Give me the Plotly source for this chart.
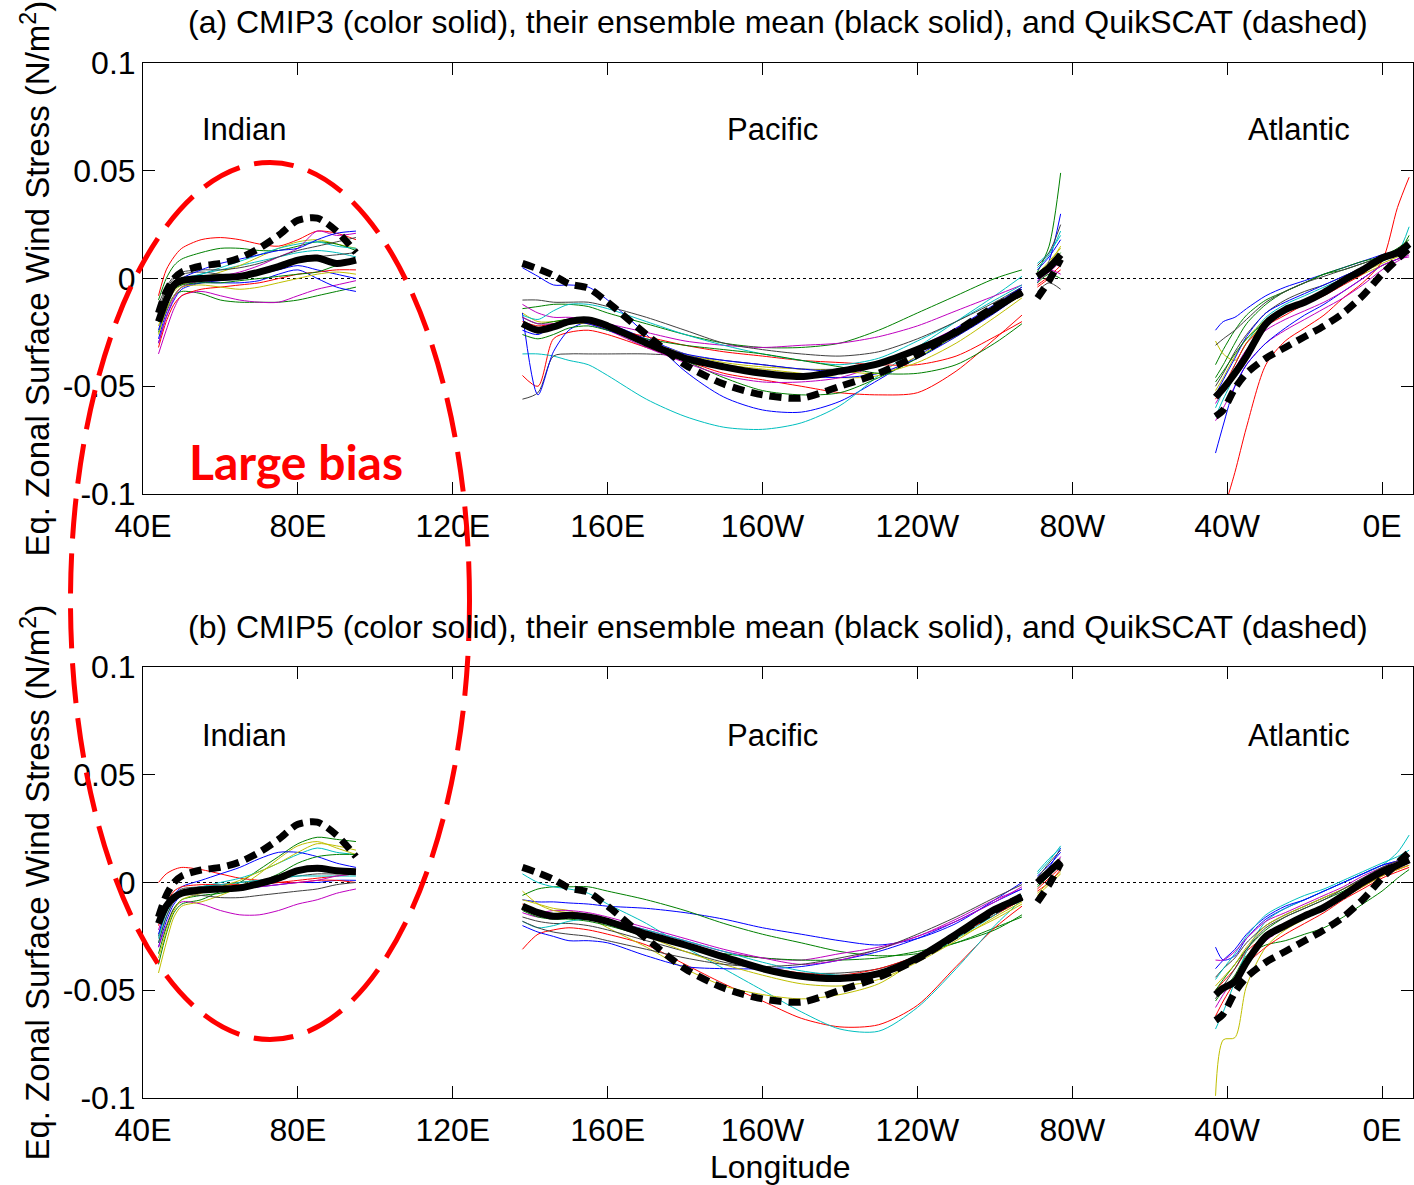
import plotly.graph_objects as go

# ---------------- data ----------------
lon_ind = [44, 46, 48, 50, 55, 60, 65, 70, 75, 80, 85, 90, 95]
lon_pac = [138, 142, 146, 150, 155, 160, 170, 180, 190, 200, 210, 220, 230, 240, 250, 260, 267]
lon_cam = [271, 274, 277]
lon_atl = [317, 319, 322, 325, 330, 335, 340, 345, 350, 355, 360, 364, 367]

x_tickvals = [40, 80, 120, 160, 200, 240, 280, 320, 360]
x_ticktext = ["40E", "80E", "120E", "160E", "160W", "120W", "80W", "40W", "0E"]
y_tickvals = [-0.1, -0.05, 0, 0.05, 0.1]
y_ticktext = ["-0.1", "-0.05", "0", "0.05", "0.1"]

# QuikSCAT observations (same in both panels)
obs_ind = [-0.016, -0.006, 0.0, 0.003, 0.0058, 0.007, 0.0095, 0.014, 0.020, 0.027, 0.028, 0.022, 0.012]
obs_pac = [0.007, 0.0045, 0.0015, -0.0025, -0.0045, -0.011, -0.026, -0.040, -0.049, -0.054, -0.0555,
           -0.050, -0.044, -0.0355, -0.0245, -0.013, -0.0065]
obs_cam = [-0.009, -0.001, 0.009]
obs_atl = [-0.064, -0.061, -0.051, -0.044, -0.037, -0.032, -0.027, -0.022, -0.016, -0.008, 0.002, 0.009, 0.014]

# CMIP3 ensemble mean
mean3_ind = [-0.020, -0.010, -0.003, -0.001, 0.0, 0.0005, 0.001, 0.003, 0.0055, 0.0085, 0.0095, 0.007, 0.0085]
mean3_pac = [-0.021, -0.024, -0.0225, -0.020, -0.0193, -0.022, -0.030, -0.037, -0.041, -0.044, -0.0455,
             -0.043, -0.0395, -0.033, -0.025, -0.014, -0.006]
mean3_cam = [0.001, 0.005, 0.011]
mean3_atl = [-0.055, -0.051, -0.044, -0.036, -0.021, -0.0145, -0.011, -0.0065, -0.001, 0.004, 0.0095, 0.012, 0.016]

# CMIP5 ensemble mean
mean5_ind = [-0.019, -0.011, -0.007, -0.005, -0.0035, -0.003, -0.0025, -0.0005, 0.002, 0.0055, 0.0066, 0.0055, 0.005]
mean5_pac = [-0.011, -0.014, -0.0157, -0.0152, -0.016, -0.018, -0.024, -0.029, -0.0345, -0.040, -0.0435,
             -0.0445, -0.0423, -0.035, -0.024, -0.0125, -0.007]
mean5_cam = [0.0, 0.005, 0.010]
mean5_atl = [-0.052, -0.049, -0.046, -0.037, -0.025, -0.020, -0.0155, -0.0115, -0.006, 0.0, 0.005, 0.008, 0.0105]

# CMIP3 individual models
cmip3_ind = [
    [-0.030, -0.018, -0.010, -0.005, -0.002, -0.001, 0.000, 0.002, 0.004, 0.006, 0.004, 0.002, 0.000],
    [-0.025, -0.015, -0.008, -0.006, -0.007, -0.010, -0.011, -0.011, -0.011, -0.010, -0.008, -0.006, -0.004],
    [-0.008, 0.004, 0.010, 0.014, 0.018, 0.019, 0.018, 0.016, 0.015, 0.018, 0.022, 0.021, 0.018],
    [-0.020, -0.010, -0.004, -0.001, 0.002, 0.004, 0.006, 0.008, 0.010, 0.012, 0.013, 0.012, 0.010],
    [-0.035, -0.024, -0.014, -0.008, -0.006, -0.008, -0.010, -0.011, -0.011, -0.008, -0.005, -0.003, -0.001],
    [-0.022, -0.012, -0.006, -0.003, 0.000, 0.003, 0.006, 0.010, 0.014, 0.017, 0.018, 0.016, 0.014],
    [-0.015, -0.005, 0.000, 0.002, 0.003, 0.002, 0.002, 0.003, 0.005, 0.008, 0.010, 0.011, 0.012],
    [-0.028, -0.016, -0.008, -0.004, -0.002, -0.002, -0.002, -0.001, 0.002, 0.004, 0.000, -0.004, -0.006],
    [-0.010, 0.000, 0.006, 0.009, 0.012, 0.014, 0.014, 0.013, 0.013, 0.015, 0.017, 0.016, 0.013],
    [-0.032, -0.020, -0.012, -0.008, -0.005, -0.004, -0.003, -0.002, 0.000, 0.002, 0.003, 0.004, 0.004],
    [-0.018, -0.008, -0.002, 0.000, 0.002, 0.005, 0.008, 0.011, 0.014, 0.016, 0.017, 0.015, 0.014],
    [-0.030, -0.018, -0.009, -0.004, -0.001, 0.001, 0.003, 0.006, 0.010, 0.014, 0.022, 0.020, 0.021],
    [-0.026, -0.015, -0.008, -0.004, -0.003, -0.004, -0.005, -0.004, -0.002, 0.000, 0.002, 0.003, 0.002],
    [-0.012, -0.004, 0.001, 0.003, 0.004, 0.004, 0.005, 0.007, 0.010, 0.013, 0.015, 0.017, 0.019],
    [-0.024, -0.012, -0.004, 0.000, 0.004, 0.007, 0.009, 0.011, 0.013, 0.014, 0.018, 0.021, 0.022],
    [-0.020, -0.010, -0.005, -0.003, -0.002, -0.002, -0.001, 0.000, 0.001, 0.002, 0.003, 0.006, 0.008],
]
cmip3_pac = [
    [0.005, 0.001, -0.003, -0.003, -0.004, -0.010, -0.026, -0.043, -0.055, -0.061, -0.062, -0.057, -0.047, -0.036, -0.025, -0.013, -0.005],
    [-0.014, -0.013, -0.012, -0.012, -0.013, -0.016, -0.021, -0.026, -0.030, -0.032, -0.032, -0.030, -0.024, -0.016, -0.008, 0.000, 0.004],
    [-0.045, -0.050, -0.028, -0.025, -0.024, -0.026, -0.032, -0.038, -0.044, -0.047, -0.050, -0.053, -0.054, -0.053, -0.043, -0.028, -0.017],
    [-0.035, -0.035, -0.036, -0.038, -0.040, -0.045, -0.056, -0.064, -0.069, -0.070, -0.067, -0.059, -0.045, -0.032, -0.020, -0.008, 0.001],
    [-0.012, -0.016, -0.018, -0.018, -0.019, -0.021, -0.025, -0.029, -0.031, -0.032, -0.031, -0.030, -0.027, -0.022, -0.015, -0.008, -0.003],
    [-0.016, -0.020, -0.020, -0.019, -0.020, -0.023, -0.031, -0.037, -0.040, -0.042, -0.044, -0.046, -0.045, -0.036, -0.027, -0.015, -0.008],
    [-0.056, -0.053, -0.036, -0.035, -0.035, -0.035, -0.035, -0.036, -0.038, -0.040, -0.042, -0.042, -0.040, -0.034, -0.025, -0.014, -0.006],
    [-0.016, -0.054, -0.034, -0.024, -0.020, -0.021, -0.028, -0.035, -0.040, -0.043, -0.045, -0.046, -0.044, -0.037, -0.027, -0.016, -0.007],
    [-0.018, -0.021, -0.020, -0.019, -0.020, -0.022, -0.029, -0.038, -0.046, -0.052, -0.054, -0.053, -0.046, -0.037, -0.026, -0.014, -0.006],
    [-0.020, -0.022, -0.021, -0.020, -0.021, -0.023, -0.027, -0.031, -0.034, -0.036, -0.038, -0.039, -0.040, -0.040, -0.036, -0.027, -0.020],
    [-0.017, -0.019, -0.015, -0.012, -0.012, -0.014, -0.020, -0.026, -0.031, -0.035, -0.038, -0.040, -0.037, -0.029, -0.020, -0.010, -0.003],
    [-0.018, -0.021, -0.021, -0.020, -0.021, -0.024, -0.032, -0.039, -0.045, -0.048, -0.048, -0.046, -0.040, -0.032, -0.023, -0.013, -0.006],
    [-0.022, -0.025, -0.023, -0.021, -0.021, -0.023, -0.029, -0.035, -0.039, -0.041, -0.042, -0.043, -0.044, -0.039, -0.030, -0.018, -0.009],
    [-0.010, -0.010, -0.011, -0.011, -0.011, -0.013, -0.018, -0.024, -0.030, -0.033, -0.035, -0.036, -0.034, -0.028, -0.020, -0.011, -0.004],
    [-0.024, -0.026, -0.022, -0.020, -0.021, -0.024, -0.030, -0.035, -0.038, -0.040, -0.042, -0.043, -0.040, -0.033, -0.023, -0.012, -0.004],
    [-0.026, -0.028, -0.026, -0.023, -0.022, -0.024, -0.028, -0.031, -0.033, -0.035, -0.038, -0.041, -0.044, -0.044, -0.040, -0.030, -0.021],
]
cmip3_cam = [
    [-0.002, 0.008, 0.030], [0.003, 0.015, 0.049], [-0.004, 0.000, 0.004], [0.007, 0.012, 0.020],
    [-0.001, 0.003, 0.008], [0.002, 0.007, 0.015], [-0.006, -0.002, -0.005], [0.004, 0.010, 0.018],
    [0.001, 0.006, 0.012], [-0.003, 0.001, 0.006], [0.005, 0.011, 0.022], [0.000, 0.004, 0.002],
    [0.002, 0.008, 0.014], [0.006, 0.012, 0.025], [0.000, 0.005, 0.010], [-0.002, 0.002, 0.000],
]
cmip3_atl = [
    [-0.024, -0.020, -0.018, -0.014, -0.008, -0.004, -0.001, 0.002, 0.005, 0.008, 0.011, 0.013, 0.016],
    [-0.040, -0.033, -0.024, -0.017, -0.010, -0.006, -0.002, 0.002, 0.004, 0.007, 0.010, 0.012, 0.014],
    [-0.118, -0.108, -0.090, -0.069, -0.040, -0.029, -0.023, -0.017, -0.009, -0.002, 0.008, 0.033, 0.047],
    [-0.060, -0.052, -0.040, -0.030, -0.018, -0.012, -0.008, -0.004, 0.000, 0.004, 0.008, 0.011, 0.014],
    [-0.066, -0.060, -0.050, -0.040, -0.030, -0.024, -0.019, -0.014, -0.009, -0.003, 0.004, 0.008, 0.011],
    [-0.029, -0.035, -0.038, -0.030, -0.020, -0.014, -0.010, -0.006, -0.002, 0.002, 0.006, 0.009, 0.012],
    [-0.050, -0.044, -0.034, -0.026, -0.016, -0.010, -0.006, -0.003, 0.001, 0.005, 0.009, 0.011, 0.013],
    [-0.081, -0.068, -0.050, -0.040, -0.030, -0.023, -0.017, -0.012, -0.006, 0.000, 0.006, 0.009, 0.012],
    [-0.046, -0.040, -0.030, -0.021, -0.012, -0.006, -0.002, 0.002, 0.005, 0.008, 0.010, 0.012, 0.020],
    [-0.056, -0.050, -0.040, -0.030, -0.022, -0.017, -0.012, -0.008, -0.003, 0.002, 0.009, 0.011, 0.012],
    [-0.064, -0.056, -0.045, -0.034, -0.022, -0.016, -0.011, -0.007, -0.002, 0.003, 0.008, 0.012, 0.024],
    [-0.058, -0.052, -0.042, -0.033, -0.024, -0.019, -0.015, -0.011, -0.006, 0.000, 0.006, 0.009, 0.010],
    [-0.052, -0.046, -0.036, -0.028, -0.019, -0.014, -0.010, -0.006, -0.002, 0.003, 0.007, 0.010, 0.012],
    [-0.031, -0.028, -0.024, -0.019, -0.011, -0.006, -0.002, 0.001, 0.004, 0.007, 0.010, 0.013, 0.015],
    [-0.054, -0.047, -0.037, -0.027, -0.016, -0.011, -0.007, -0.003, 0.001, 0.005, 0.009, 0.011, 0.014],
    [-0.048, -0.043, -0.035, -0.028, -0.020, -0.015, -0.010, -0.006, -0.001, 0.004, 0.010, 0.014, 0.018],
]

# CMIP5 individual models
cmip5_ind = [
    [-0.030, -0.018, -0.010, -0.006, -0.004, -0.003, -0.003, -0.002, -0.001, 0.000, 0.000, 0.001, 0.001],
    [-0.038, -0.024, -0.014, -0.010, -0.008, -0.004, 0.000, 0.006, 0.012, 0.018, 0.021, 0.020, 0.019],
    [0.000, 0.004, 0.006, 0.007, 0.006, 0.004, 0.002, 0.001, 0.000, 0.000, 0.001, 0.001, 0.000],
    [-0.028, -0.016, -0.008, -0.004, -0.002, 0.000, 0.002, 0.005, 0.009, 0.013, 0.016, 0.014, 0.013],
    [-0.030, -0.020, -0.012, -0.009, -0.010, -0.013, -0.015, -0.015, -0.013, -0.010, -0.008, -0.005, -0.003],
    [-0.042, -0.028, -0.016, -0.011, -0.009, -0.006, -0.002, 0.004, 0.011, 0.017, 0.019, 0.016, 0.013],
    [-0.025, -0.013, -0.006, -0.003, -0.002, -0.001, 0.000, 0.001, 0.002, 0.003, 0.004, 0.004, 0.005],
    [-0.024, -0.013, -0.006, -0.002, 0.001, 0.004, 0.007, 0.011, 0.014, 0.014, 0.012, 0.009, 0.007],
    [-0.033, -0.021, -0.012, -0.008, -0.006, -0.005, -0.003, 0.000, 0.004, 0.009, 0.012, 0.013, 0.013],
    [-0.020, -0.010, -0.004, -0.002, -0.001, -0.001, -0.001, -0.001, 0.000, 0.001, 0.002, 0.003, 0.004],
    [-0.026, -0.014, -0.007, -0.004, -0.002, -0.001, 0.000, 0.001, 0.002, 0.003, 0.003, 0.003, 0.003],
    [-0.022, -0.012, -0.006, -0.004, -0.004, -0.004, -0.003, -0.002, -0.001, 0.000, 0.001, 0.003, 0.004],
    [-0.035, -0.023, -0.013, -0.008, -0.005, -0.002, 0.001, 0.005, 0.009, 0.014, 0.018, 0.017, 0.015],
    [-0.028, -0.016, -0.009, -0.006, -0.006, -0.007, -0.007, -0.006, -0.005, -0.004, -0.003, -0.001, 0.000],
]
cmip5_pac = [
    [-0.008, -0.009, -0.009, -0.0095, -0.010, -0.011, -0.012, -0.014, -0.017, -0.021, -0.024, -0.027, -0.029, -0.026, -0.019, -0.008, 0.000],
    [-0.006, -0.003, -0.002, -0.002, -0.002, -0.004, -0.008, -0.013, -0.019, -0.024, -0.028, -0.032, -0.034, -0.033, -0.028, -0.021, -0.016],
    [-0.031, -0.024, -0.022, -0.021, -0.022, -0.024, -0.029, -0.038, -0.047, -0.055, -0.063, -0.067, -0.066, -0.057, -0.039, -0.021, -0.011],
    [0.004, 0.000, -0.002, -0.003, -0.005, -0.010, -0.019, -0.030, -0.040, -0.050, -0.060, -0.068, -0.069, -0.058, -0.040, -0.020, -0.008],
    [-0.014, -0.016, -0.015, -0.014, -0.015, -0.017, -0.022, -0.027, -0.032, -0.035, -0.036, -0.033, -0.030, -0.025, -0.017, -0.008, -0.003],
    [-0.008, -0.010, -0.012, -0.013, -0.016, -0.021, -0.030, -0.040, -0.048, -0.052, -0.054, -0.052, -0.047, -0.036, -0.026, -0.017, -0.010],
    [-0.016, -0.018, -0.019, -0.019, -0.020, -0.022, -0.027, -0.032, -0.037, -0.040, -0.042, -0.042, -0.040, -0.034, -0.025, -0.015, -0.008],
    [-0.020, -0.023, -0.025, -0.027, -0.027, -0.028, -0.034, -0.039, -0.040, -0.040, -0.039, -0.036, -0.032, -0.026, -0.018, -0.009, -0.003],
    [-0.013, -0.016, -0.017, -0.017, -0.018, -0.020, -0.025, -0.030, -0.033, -0.035, -0.036, -0.036, -0.035, -0.032, -0.028, -0.022, -0.015],
    [-0.010, -0.014, -0.016, -0.016, -0.017, -0.019, -0.024, -0.029, -0.034, -0.039, -0.042, -0.043, -0.040, -0.034, -0.025, -0.015, -0.008],
    [-0.018, -0.021, -0.020, -0.018, -0.017, -0.018, -0.022, -0.027, -0.032, -0.037, -0.041, -0.043, -0.042, -0.036, -0.026, -0.015, -0.006],
    [-0.012, -0.014, -0.013, -0.013, -0.014, -0.016, -0.021, -0.026, -0.031, -0.035, -0.038, -0.036, -0.031, -0.025, -0.018, -0.009, -0.002],
    [-0.004, -0.010, -0.013, -0.014, -0.016, -0.019, -0.025, -0.032, -0.038, -0.043, -0.047, -0.048, -0.045, -0.037, -0.027, -0.016, -0.009],
    [-0.018, -0.021, -0.023, -0.024, -0.025, -0.027, -0.031, -0.035, -0.038, -0.039, -0.038, -0.035, -0.031, -0.024, -0.016, -0.007, -0.001],
]
cmip5_cam = [
    [0.001, 0.007, 0.016], [-0.002, 0.003, 0.009], [-0.004, 0.000, 0.006], [0.004, 0.010, 0.017],
    [0.000, 0.005, 0.010], [-0.006, -0.001, 0.004], [0.002, 0.006, 0.011], [0.003, 0.008, 0.014],
    [-0.001, 0.004, 0.008], [-0.003, 0.002, 0.007], [0.005, 0.011, 0.016], [0.000, 0.004, 0.012],
    [-0.005, 0.000, 0.005], [0.002, 0.009, 0.015],
]
cmip5_atl = [
    [-0.030, -0.036, -0.034, -0.026, -0.017, -0.012, -0.008, -0.004, 0.000, 0.004, 0.008, 0.010, 0.012],
    [-0.055, -0.050, -0.043, -0.034, -0.029, -0.027, -0.024, -0.021, -0.016, -0.010, -0.004, 0.002, 0.006],
    [-0.050, -0.046, -0.040, -0.032, -0.025, -0.020, -0.016, -0.012, -0.007, -0.002, 0.003, 0.006, 0.008],
    [-0.068, -0.060, -0.046, -0.032, -0.018, -0.012, -0.008, -0.004, 0.000, 0.004, 0.008, 0.014, 0.022],
    [-0.058, -0.052, -0.044, -0.036, -0.027, -0.021, -0.016, -0.011, -0.006, -0.001, 0.004, 0.007, 0.009],
    [-0.099, -0.073, -0.072, -0.048, -0.030, -0.022, -0.017, -0.012, -0.007, -0.002, 0.003, 0.006, 0.008],
    [-0.044, -0.040, -0.035, -0.028, -0.020, -0.015, -0.011, -0.007, -0.003, 0.002, 0.006, 0.009, 0.011],
    [-0.040, -0.036, -0.031, -0.024, -0.016, -0.011, -0.008, -0.004, 0.000, 0.004, 0.008, 0.010, 0.012],
    [-0.050, -0.045, -0.038, -0.031, -0.022, -0.016, -0.012, -0.008, -0.004, 0.001, 0.005, 0.008, 0.010],
    [-0.062, -0.055, -0.046, -0.038, -0.030, -0.024, -0.019, -0.014, -0.008, -0.003, 0.002, 0.005, 0.007],
    [-0.045, -0.040, -0.033, -0.025, -0.015, -0.010, -0.006, -0.003, 0.001, 0.005, 0.009, 0.012, 0.015],
    [-0.036, -0.036, -0.032, -0.026, -0.018, -0.014, -0.010, -0.006, -0.002, 0.003, 0.007, 0.010, 0.013],
    [-0.048, -0.044, -0.038, -0.030, -0.020, -0.015, -0.011, -0.007, -0.003, 0.001, 0.005, 0.008, 0.010],
    [-0.054, -0.048, -0.040, -0.031, -0.021, -0.016, -0.012, -0.008, -0.003, 0.002, 0.007, 0.010, 0.012],
]

model_colors = ["rgb(0,0,255)", "rgb(0,128,0)", "rgb(255,0,0)", "rgb(0,191,191)",
                "rgb(191,0,191)", "rgb(191,191,0)", "rgb(64,64,64)"]

panel_titles = ["(a) CMIP3 (color solid), their ensemble mean (black solid), and QuikSCAT (dashed)",
                "(b) CMIP5 (color solid), their ensemble mean (black solid), and QuikSCAT (dashed)"]
basin_names = ["Indian", "Pacific", "Atlantic"]
basin_lons = [66, 202.5, 338.5]

# ---------------- figure ----------------
FONT = "Liberation Sans, Arial, sans-serif"
xs = lon_ind + [None] + lon_pac + [None] + lon_cam + [None] + lon_atl


def joined(a, b, c, d):
    return list(a) + [None] + list(b) + [None] + list(c) + [None] + list(d)


fig = go.Figure()
panels = [
    ("x", "y", cmip3_ind, cmip3_pac, cmip3_cam, cmip3_atl, mean3_ind, mean3_pac, mean3_cam, mean3_atl),
    ("x2", "y2", cmip5_ind, cmip5_pac, cmip5_cam, cmip5_atl, mean5_ind, mean5_pac, mean5_cam, mean5_atl),
]
for xa, ya, mi, mp, mc, ma, ei, ep, ec, eat in panels:
    for k in range(len(mi)):
        fig.add_trace(go.Scatter(x=xs, y=joined(mi[k], mp[k], mc[k], ma[k]), mode="lines",
                                 line=dict(color=model_colors[k % 7], width=1, shape="spline", smoothing=0.8),
                                 xaxis=xa, yaxis=ya, showlegend=False, hoverinfo="skip"))
    fig.add_trace(go.Scatter(x=xs, y=joined(ei, ep, ec, eat), mode="lines",
                             line=dict(color="black", width=7, shape="spline", smoothing=0.8),
                             xaxis=xa, yaxis=ya, showlegend=False))
    fig.add_trace(go.Scatter(x=xs, y=joined(obs_ind, obs_pac, obs_cam, obs_atl), mode="lines",
                             line=dict(color="black", width=7, dash="12px,7px", shape="spline", smoothing=0.8),
                             xaxis=xa, yaxis=ya, showlegend=False))

axis_common = dict(showline=True, linecolor="black", linewidth=1, mirror="ticks",
                   ticks="inside", ticklen=12, tickcolor="black", tickwidth=1,
                   showgrid=False, zeroline=False,
                   tickfont=dict(family=FONT, size=32, color="black"))

dom_a = [(1098 - 494) / 1035, 1.0]
dom_b = [0.0, (1098 - 667) / 1035]

fig.update_layout(
    width=1414, height=1185,
    margin=dict(l=143, r=1, t=63, b=87),
    paper_bgcolor="white", plot_bgcolor="white",
    showlegend=False,
    xaxis=dict(range=[40, 368], anchor="y", tickvals=x_tickvals, ticktext=x_ticktext,
               ticklabelstandoff=4, **axis_common),
    yaxis=dict(range=[-0.1, 0.1], domain=dom_a, anchor="x", tickvals=y_tickvals, ticktext=y_ticktext, **axis_common),
    xaxis2=dict(range=[40, 368], anchor="y2", tickvals=x_tickvals, ticktext=x_ticktext,
                ticklabelstandoff=4, **axis_common),
    yaxis2=dict(range=[-0.1, 0.1], domain=dom_b, anchor="x2", tickvals=y_tickvals, ticktext=y_ticktext, **axis_common),
)

shapes = []
for xr, yr in [("x domain", "y"), ("x2 domain", "y2")]:
    shapes.append(dict(type="line", xref=xr, yref=yr, x0=0, x1=1, y0=0, y1=0, layer="below",
                       line=dict(color="black", width=1, dash="dot")))
# red dashed ellipse highlighting the Indian Ocean bias
shapes.append(dict(type="circle", xref="paper", yref="paper",
                   x0=(70.5 - 143) / 1270, x1=(469.5 - 143) / 1270,
                   y0=(1098 - 1039.5) / 1035, y1=(1098 - 162.5) / 1035,
                   line=dict(color="rgb(255,0,0)", width=5, dash="40px,15px")))
fig.update_layout(shapes=shapes)

ann = []
title_y = [1 + (63 - 22) / 1035, (1098 - 627) / 1035]
for i, t in enumerate(panel_titles):
    ann.append(dict(text=t, xref="paper", yref="paper", x=0.5, y=title_y[i], showarrow=False,
                    xanchor="center", yanchor="middle", font=dict(family=FONT, size=32, color="black")))
for ya, yv in [("y", 0.069), ("y2", 0.068)]:
    xa = "x" if ya == "y" else "x2"
    for name, lo in zip(basin_names, basin_lons):
        ann.append(dict(text=name, xref=xa, yref=ya, x=lo, y=yv, showarrow=False,
                        xanchor="center", yanchor="middle", font=dict(family=FONT, size=31, color="black")))
ytitle = "Eq. Zonal Surface Wind Stress (N/m<sup>2</sup>)"
for yc in [(1098 - 278.5) / 1035, (1098 - 882.5) / 1035]:
    ann.append(dict(text=ytitle, xref="paper", yref="paper", x=(35 - 143) / 1270, y=yc, textangle=-90,
                    showarrow=False, xanchor="center", yanchor="middle",
                    font=dict(family=FONT, size=33, color="black")))
ann.append(dict(text="Longitude", xref="paper", yref="paper", x=(781 - 143) / 1270, y=(1098 - 1167) / 1035,
                showarrow=False, xanchor="center", yanchor="middle", font=dict(family=FONT, size=32, color="black")))
ann.append(dict(text="<b>Large bias</b>", xref="paper", yref="paper", x=(296 - 143) / 1270, y=(1098 - 462) / 1035,
                showarrow=False, xanchor="center", yanchor="middle",
                font=dict(family="Lato, Open Sans, sans-serif", size=48, color="rgb(255,0,0)")))
fig.update_layout(annotations=ann)

fig.write_html("out.html")
